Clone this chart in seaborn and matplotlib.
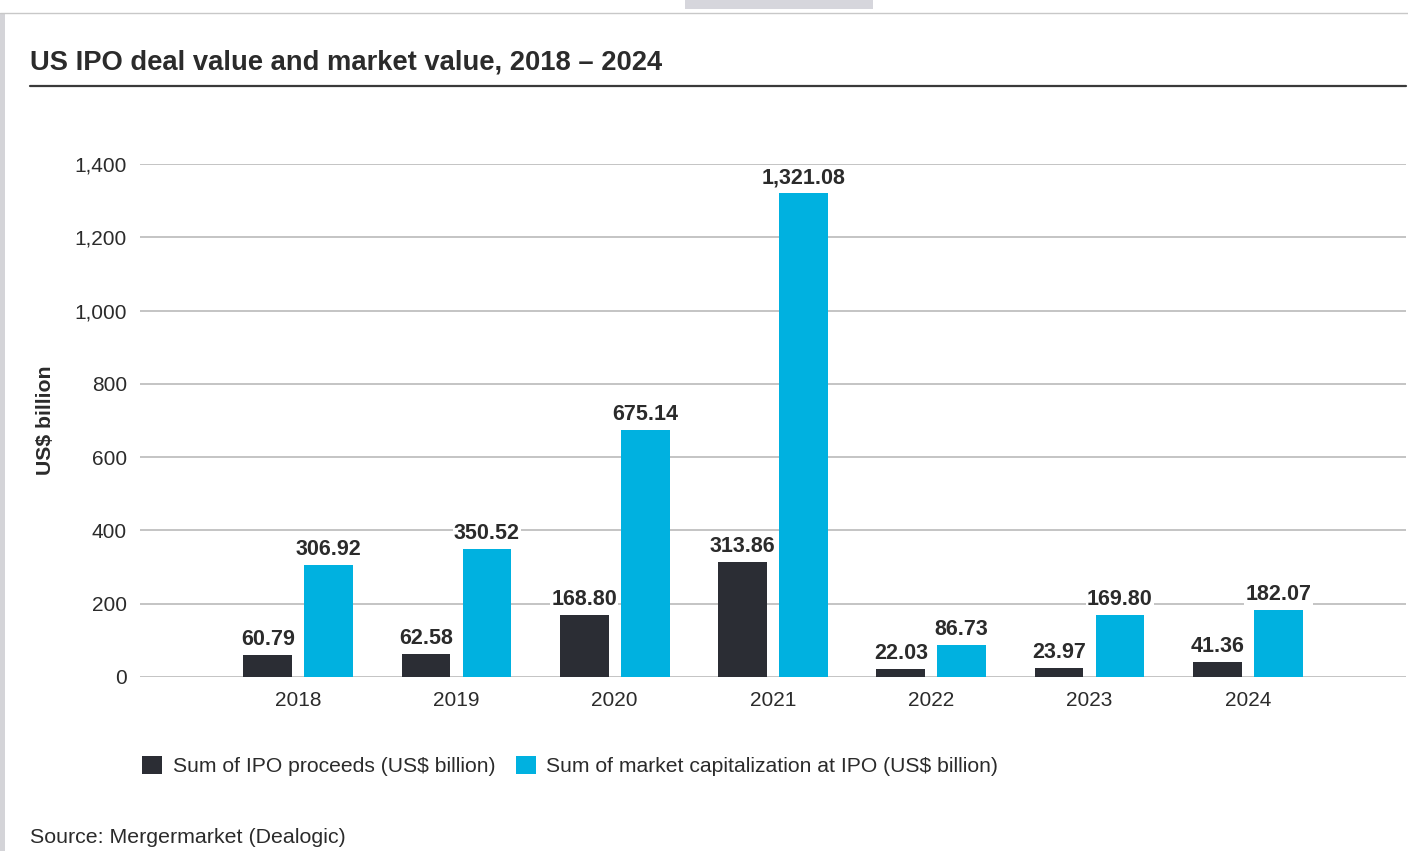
import matplotlib
matplotlib.use("Agg")
import matplotlib.pyplot as plt
import seaborn as sns
import pandas as pd
from matplotlib.lines import Line2D
from matplotlib.patches import Rectangle, Patch

years = ["2018", "2019", "2020", "2021", "2022", "2023", "2024"]
proceeds = [60.79, 62.58, 168.80, 313.86, 22.03, 23.97, 41.36]
market_cap = [306.92, 350.52, 675.14, 1321.08, 86.73, 169.80, 182.07]
series_names = ["Sum of IPO proceeds (US$ billion)",
                "Sum of market capitalization at IPO (US$ billion)"]
yticks = [0, 200, 400, 600, 800, 1000, 1200, 1400]

DARK = "#2b2d34"
CYAN = "#00b1e0"
TXT = "#2b2b2b"

df = pd.DataFrame({
    "Year": years * 2,
    "Value": proceeds + market_cap,
    "Series": [series_names[0]] * len(years) + [series_names[1]] * len(years),
})

sns.set_style("white")
plt.rcParams["font.family"] = ["Liberation Sans", "DejaVu Sans"]

fig = plt.figure(figsize=(14.08, 8.51), dpi=100)
ax = fig.add_axes([140 / 1408, 1 - 677 / 851, 1266 / 1408, 513 / 851])

sns.barplot(data=df, x="Year", y="Value", hue="Series", order=years,
            hue_order=series_names, palette=[DARK, CYAN], width=0.77,
            gap=0.197, saturation=1, ax=ax, legend=False, edgecolor="none",
            zorder=3)

for cont in ax.containers:
    ax.bar_label(cont, labels=[f"{v:,.2f}" for v in cont.datavalues],
                 padding=3.5, fontsize=15.5, fontweight="bold", color=TXT,
                 bbox=dict(facecolor="white", edgecolor="none", pad=1.0),
                 zorder=2)

ax.set_xlim(-1, 7)
ax.set_ylim(0, 1400)
ax.set_yticks(yticks)
ax.set_yticklabels([f"{t:,}" for t in yticks])
ax.yaxis.grid(True, color="#b4b4b4", linewidth=1.1, zorder=0)
ax.set_axisbelow(True)
for s in ax.spines.values():
    s.set_visible(False)
ax.tick_params(axis="both", length=0, labelsize=15, colors=TXT)
ax.tick_params(axis="y", pad=9.5)
ax.tick_params(axis="x", pad=10)
ax.set_xlabel("")
ax.set_ylabel("US$ billion", fontsize=15.3, fontweight="bold", color=TXT)
ax.yaxis.set_label_coords(-0.067, 0.5)

# Title and rule
fig.text(30 / 1408, 1 - 62.5 / 851, "US IPO deal value and market value, 2018 \u2013 2024",
         fontsize=19.7, fontweight="bold", color=TXT, va="center", ha="left")
fig.add_artist(Line2D([30 / 1408, 1406 / 1408], [1 - 86 / 851, 1 - 86 / 851],
                      color="#3a3a3a", linewidth=1.6, transform=fig.transFigure))

# Legend
handles = [Patch(facecolor=DARK, edgecolor="none"), Patch(facecolor=CYAN, edgecolor="none")]
fig.legend(handles, series_names, loc="center left",
           bbox_to_anchor=(134 / 1408, 1 - 766 / 851), ncol=2, frameon=False,
           fontsize=15.25, handlelength=0.92, handleheight=0.92, handletextpad=0.5,
           columnspacing=1.0, labelcolor=TXT, borderaxespad=0)

# Source
fig.text(30 / 1408, 1 - 837.5 / 851, "Source: Mergermarket (Dealogic)", fontsize=15.4,
         color=TXT, va="center", ha="left")

# Browser-frame decorations
fig.add_artist(Rectangle((0, 0), 5 / 1408, 1 - 13 / 851, transform=fig.transFigure,
                         facecolor="#d4d4d8", edgecolor="none"))
fig.add_artist(Line2D([0, 1], [1 - 13 / 851, 1 - 13 / 851], color="#c8c8c8",
                      linewidth=1, transform=fig.transFigure))
fig.add_artist(Rectangle((685 / 1408, 1 - 9 / 851), 188 / 1408, 9 / 851,
                         transform=fig.transFigure, facecolor="#d6d6dc", edgecolor="none"))

fig.savefig("out.png", dpi=100)
